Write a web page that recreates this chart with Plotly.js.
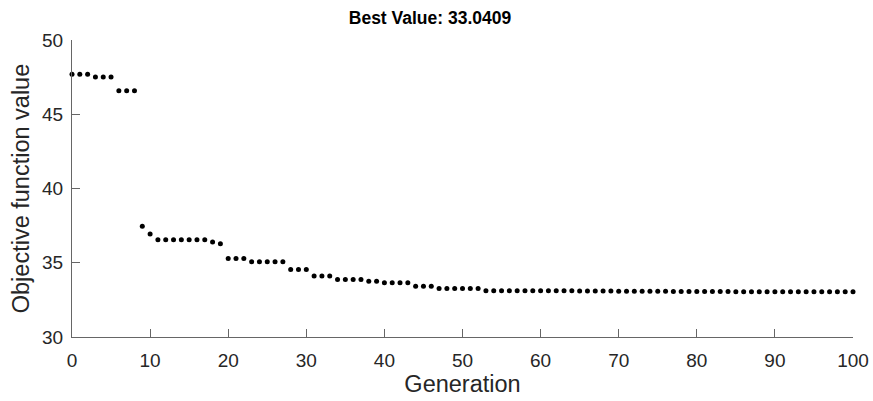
<!DOCTYPE html>
<html>
<head>
<meta charset="utf-8">
<script src="https://cdn.plot.ly/plotly-3.0.1.min.js"></script>
<style>html,body{margin:0;padding:0;background:#fff;}#chart{width:873px;height:401px;}</style>
</head>
<body>
<div id="chart"></div>
<script>
const generations = [
  0,1,2,3,4,5,6,7,8,9,10,11,12,13,14,15,16,17,18,19,20,
  21,22,23,24,25,26,27,28,29,30,31,32,33,34,35,36,37,38,39,40,
  41,42,43,44,45,46,47,48,49,50,51,52,53,54,55,56,57,58,59,60,
  61,62,63,64,65,66,67,68,69,70,71,72,73,74,75,76,77,78,79,80,
  81,82,83,84,85,86,87,88,89,90,91,92,93,94,95,96,97,98,99,100
];
const bestValues = [
  47.69,47.69,47.69,47.51,47.51,47.51,46.59,46.59,46.59,37.45,36.93,
  36.55,36.55,36.55,36.55,36.55,36.55,36.55,36.39,36.28,35.29,
  35.29,35.29,35.07,35.07,35.07,35.07,35.07,34.55,34.55,34.55,
  34.10,34.10,34.10,33.87,33.87,33.87,33.87,33.76,33.76,33.65,
  33.65,33.65,33.65,33.42,33.42,33.42,33.27,33.27,33.27,33.27,
  33.27,33.27,33.12,33.12,33.12,33.12,33.12,33.12,33.11,33.11,
  33.11,33.11,33.11,33.11,33.10,33.10,33.10,33.10,33.10,33.08,
  33.08,33.08,33.08,33.08,33.08,33.08,33.06,33.06,33.06,33.06,
  33.06,33.06,33.06,33.06,33.05,33.05,33.05,33.05,33.05,33.05,
  33.05,33.05,33.05,33.05,33.05,33.05,33.05,33.05,33.05,33.0409
];
const titleText = 'Best Value: 33.0409';
const xLabel = 'Generation';
const yLabel = 'Objective function value';
const xTicks = [0,10,20,30,40,50,60,70,80,90,100];
const yTicks = [30,35,40,45,50];

const FONT = 'Liberation Sans, Arial, Helvetica, sans-serif';
const AX = '#666666';
const TXT = '#262626';

const trace = {
  x: generations,
  y: bestValues,
  type: 'scatter',
  mode: 'markers',
  marker: {color: '#000000', size: 5},
  cliponaxis: false,
  hoverinfo: 'x+y'
};

const axisCommon = {
  showline: true, linecolor: AX, linewidth: 1,
  ticks: 'inside', ticklen: 8, tickcolor: AX, tickwidth: 1,
  showgrid: false, zeroline: false, mirror: false,
  tickfont: {family: FONT, size: 19, color: TXT},
  automargin: false
};

const layout = {
  width: 873, height: 401,
  margin: {l: 72, r: 20, t: 40, b: 64},
  paper_bgcolor: '#ffffff', plot_bgcolor: '#ffffff',
  showlegend: false,
  title: {text: '<b>' + titleText + '</b>', font: {family: FONT, size: 17.5, color: '#000'},
          x: 430 / 873, xref: 'container', xanchor: 'center', y: 0.955, yanchor: 'middle'},
  xaxis: Object.assign({}, axisCommon, {
    range: [0, 100], tickvals: xTicks, ticktext: xTicks.map(String),
    ticklabelstandoff: 6,
    title: {text: xLabel, font: {family: FONT, size: 23.5, color: TXT}, standoff: 1}
  }),
  yaxis: Object.assign({}, axisCommon, {
    range: [30, 50], tickvals: yTicks, ticktext: yTicks.map(String),
    ticklabelstandoff: 4,
    title: {text: yLabel, font: {family: FONT, size: 23.5, color: TXT}, standoff: 5}
  })
};

Plotly.newPlot('chart', [trace], layout, {displayModeBar: false, staticPlot: true});
</script>
</body>
</html>
